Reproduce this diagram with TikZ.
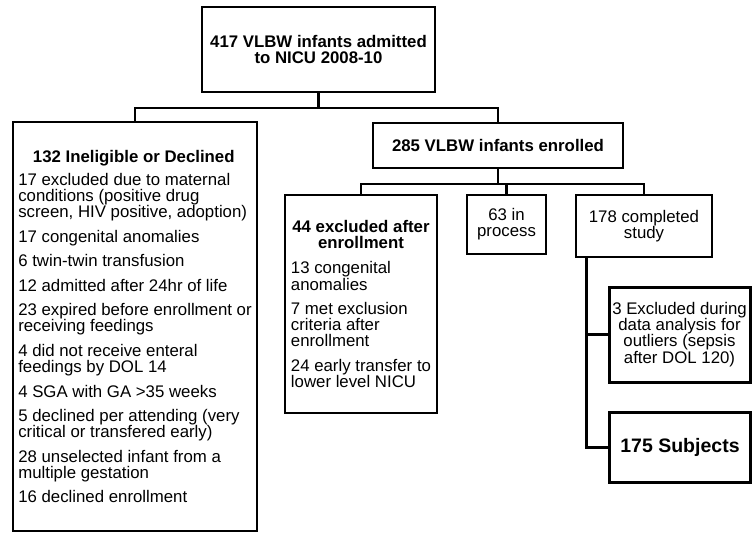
\documentclass[tikz,border=0pt]{standalone}
\usepackage{fontspec}
\setmainfont{Liberation Sans}
\begin{document}
\begin{tikzpicture}[x=1pt,y=-1pt,
  box/.style={draw, line width=2.2pt, inner sep=0pt, align=center, fill=white,
    font=\fontsize{16.8}{16.2}\selectfont},
  lbox/.style={box, align=left},
  heavy/.style={line width=3pt},
  conn/.style={line width=2.2pt},
]
\useasboundingbox (0,0) rectangle (752,533);

\node[box, minimum width=233pt, minimum height=85pt] (top) at (318.5,49.5)
  {\bfseries 417 VLBW infants admitted\\\bfseries to NICU 2008-10};

\node[lbox, minimum width=244pt, minimum height=409pt] (left) at (135,326.5)
  {\makebox[231pt]{\bfseries 132 Ineligible or Declined}\\[7pt]
   17 excluded due to maternal\\ conditions (positive drug\\ screen, HIV positive, adoption)\\[8.3pt]
   17 congenital anomalies\\[8.3pt]
   6 twin-twin transfusion\\[8.3pt]
   12 admitted after 24hr of life\\[8.3pt]
   23 expired before enrollment or\\ receiving feedings\\[8.3pt]
   4 did not receive enteral\\ feedings by DOL 14\\[8.3pt]
   4 SGA with GA >35 weeks\\[8.3pt]
   5 declined per attending (very\\ critical or transfered early)\\[8.3pt]
   28 unselected infant from a\\ multiple gestation\\[8.3pt]
   16 declined enrollment};

\node[box, minimum width=250pt, minimum height=45pt] (enr) at (498,145.5)
  {\bfseries 285 VLBW infants enrolled};

\node[lbox, minimum width=152pt, minimum height=218pt] (exc) at (361,304)
  {\makebox[140pt]{\bfseries 44 excluded after}\\
   \makebox[140pt]{\bfseries enrollment}\\[9pt]
   13 congenital\\ anomalies\\[8.3pt]
   7 met exclusion\\ criteria after\\ enrollment\\[8.3pt]
   24 early transfer to\\ lower level NICU};

\node[box, minimum width=79pt, minimum height=59pt] (inproc) at (506.5,224.5)
  {63 in\\process};

\node[box, minimum width=136pt, minimum height=62pt] (comp) at (644,226)
  {178 completed\\study};

\node[box, heavy, minimum width=141pt, minimum height=95pt] (excl) at (679.5,334.5)
  {3 Excluded during\\data analysis for\\outliers (sepsis\\after DOL 120)};

\node[box, heavy, minimum width=141pt, minimum height=70pt,
      font=\fontsize{19.5}{20}\selectfont\bfseries] (subj) at (680,447)
  {175 Subjects};

\draw[conn] (top.south) -- ++(0,15) coordinate (j1) -| (left.north);
\draw[conn] (j1) -| (enr.north);
\draw[conn] (enr.south) -- ++(0,14.5) coordinate (j2) -| (exc.north);
\draw[conn] (j2) -| (inproc.north);
\draw[conn] (j2) -| (comp.north);
\draw[conn, heavy] ([xshift=12pt]comp.south west) coordinate (j3) |- (excl.west);
\draw[conn, heavy] (j3) |- (subj.west);
\end{tikzpicture}
\end{document}
